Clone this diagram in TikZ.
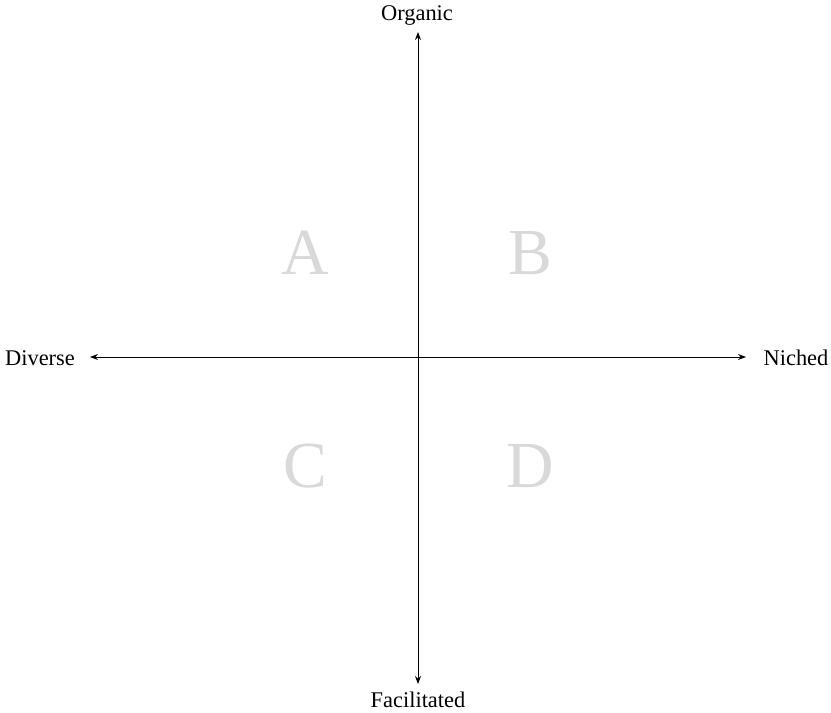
\documentclass[tikz,border=0pt]{standalone}
\usepackage{fontspec}
\setmainfont{Liberation Serif}
\usetikzlibrary{arrows.meta}
\definecolor{quadgray}{HTML}{D9D9D9}
\begin{document}
\begin{tikzpicture}[x=1bp,y=-1bp,
  axislabel/.style={font=\fontsize{22.5}{24}\selectfont, inner sep=0pt},
  quadletter/.style={font=\fontsize{66}{70}\selectfont, text=quadgray, inner sep=0pt},
  axis/.style={line width=1bp, {Stealth[length=8bp,width=6bp]}-{Stealth[length=8bp,width=6bp]}}]
\useasboundingbox (0,0) rectangle (831,713);
\coordinate (top) at (418,32);
\coordinate (bottom) at (418,684);
\coordinate (left) at (90,357);
\coordinate (right) at (746,357);
\node[axislabel] (org) at (417,15) {Organic};
\node[axislabel] (fac) at (418,700) {Facilitated};
\node[axislabel] (div) at (40,358) {Diverse};
\node[axislabel] (nic) at (796,358) {Niched};
\node[quadletter] (A) at (305,253) {A};
\node[quadletter] (B) at (530,253) {B};
\node[quadletter] (C) at (305,466) {C};
\node[quadletter] (D) at (530,466) {D};
\draw[axis] (top) -- (bottom);
\draw[axis] (left) -- (right);
\end{tikzpicture}
\end{document}
